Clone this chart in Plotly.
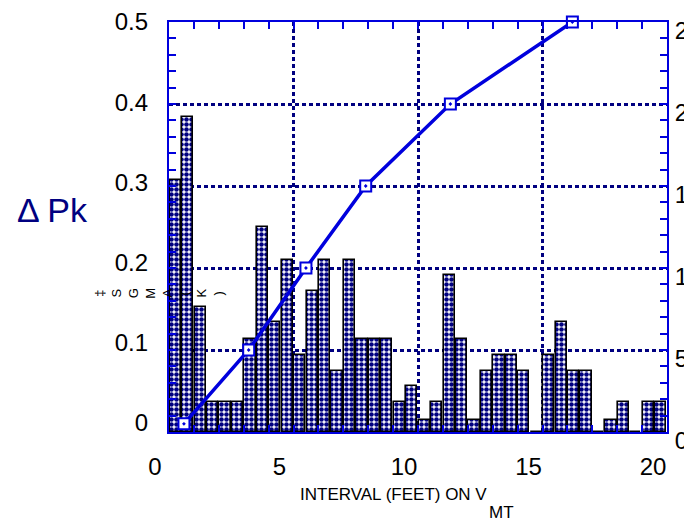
import plotly.graph_objects as go

# ---- data ----
bin_centers = [0.25, 0.75, 1.25, 1.75, 2.25, 2.75, 3.25, 3.75, 4.25, 4.75,
               5.25, 5.75, 6.25, 6.75, 7.25, 7.75, 8.25, 8.75, 9.25, 9.75,
               10.25, 10.75, 11.25, 11.75, 12.25, 12.75, 13.25, 13.75, 14.25, 14.75,
               15.25, 15.75, 16.25, 16.75, 17.25, 17.75, 18.25, 18.75, 19.25, 19.75]
bar_counts = [15.35, 19.2, 7.6, 1.8, 1.8, 1.8, 5.7, 12.5, 6.7, 10.5,
              4.7, 8.6, 10.5, 3.75, 10.5, 5.7, 5.7, 5.7, 1.8, 2.8,
              0.75, 1.8, 9.6, 5.7, 0.75, 3.75, 4.7, 4.7, 3.75, 0,
              4.7, 6.7, 3.75, 3.75, 0, 0.75, 1.8, 0, 1.8, 1.8]
line_x = [0.6, 3.2, 5.5, 7.9, 11.3, 16.2]
line_dpk = [0.01, 0.1, 0.2, 0.3, 0.4, 0.5]

x_ticks = [0, 5, 10, 15, 20]
left_ticks = [0, 0.1, 0.2, 0.3, 0.4, 0.5]
right_ticks = [0, 5, 10, 15, 20, 25]

side_label = "‡<br>S<br>G<br>M<br>A<br>(<br>K<br>)"

BLUE = "#0000dd"
NAVY = "#000080"
FONT = "Liberation Sans, Arial, sans-serif"

# page body has an 8px margin: work in screen pixels and shift
OFF = 8
SW, SH = 692, 519
W, H = SW - OFF, SH - OFF
L, R, T, B = 169 - OFF, 667 - OFF, 22 - OFF, 432.5 - OFF


def px_x(p):
    return (p - OFF - L) / (R - L)


def px_y(p):
    return (B - (p - OFF)) / (B - T)


fig = go.Figure()
fig.add_trace(go.Bar(
    x=bin_centers, y=bar_counts, width=0.45, yaxis="y",
    marker=dict(color="white", line=dict(color="black", width=1.6),
                pattern=dict(shape=".", fgcolor=NAVY, bgcolor="white",
                             size=5, solidity=0.65)),
    showlegend=False,
))
# empty trace so the label-only left axis (y3) is drawn
fig.add_trace(go.Scatter(x=[], y=[], yaxis="y3", showlegend=False, hoverinfo="skip"))
fig.add_trace(go.Scatter(
    x=line_x, y=line_dpk, yaxis="y2", mode="lines+markers",
    line=dict(color=BLUE, width=3.5),
    marker=dict(symbol="square-dot", size=11, color="white",
                line=dict(color=BLUE, width=2)),
    cliponaxis=False, showlegend=False,
))

annotations = [
    dict(text="Δ Pk", x=px_x(15), y=px_y(210), xref="paper", yref="paper",
         xanchor="left", yanchor="middle", showarrow=False,
         font=dict(family=FONT, size=34, color=NAVY)),
    dict(text="INTERVAL (FEET) ON V", x=px_x(298), y=px_y(495), xref="paper", yref="paper",
         xanchor="left", yanchor="middle", showarrow=False,
         font=dict(family=FONT, size=17, color="black")),
    dict(text="MT", x=px_x(487), y=px_y(513), xref="paper", yref="paper",
         xanchor="left", yanchor="middle", showarrow=False,
         font=dict(family=FONT, size=17, color="black")),
    dict(text=side_label, x=px_x(159), y=px_y(294), xref="paper", yref="paper",
         xanchor="center", yanchor="middle", showarrow=False, align="center",
         textangle=-90, font=dict(family=FONT, size=13, color="black")),
]

fig.update_layout(
    width=W, height=H, template="none",
    margin=dict(l=L, r=W - R, t=T, b=H - B, pad=0),
    paper_bgcolor="white", plot_bgcolor="white",
    bargap=0,
    xaxis=dict(range=[0, 20], tickvals=x_ticks, ticks="inside", ticklen=7,
               tickcolor=BLUE, tickwidth=1.5,
               minor=dict(dtick=1, ticks="inside", ticklen=7, tickcolor=BLUE,
                          tickwidth=1.5, showgrid=False),
               showgrid=True, gridcolor=NAVY, gridwidth=2.5, griddash="4px,3px",
               showline=True, linecolor=BLUE, linewidth=2, mirror="allticks",
               zeroline=False, automargin=False, ticklabeloverflow="allow",
               tickfont=dict(family=FONT, size=24, color="black"),
               ticklabelshift=-14, ticklabelstandoff=12),
    yaxis=dict(range=[0, 25], side="right", tickvals=right_ticks, ticks="inside",
               ticklen=7, tickcolor=BLUE, tickwidth=1.5,
               minor=dict(dtick=1, ticks="inside", ticklen=7, tickcolor=BLUE,
                          tickwidth=1.5, showgrid=False),
               showgrid=True, gridcolor=NAVY, gridwidth=2.5, griddash="4px,3px",
               showline=True, linecolor=BLUE, linewidth=2, mirror="allticks",
               zeroline=False, automargin=False, ticklabeloverflow="allow",
               tickfont=dict(family=FONT, size=24, color="black"),
               ticklabelshift=9, ticklabelstandoff=1),
    yaxis2=dict(range=[0, 0.5], side="left", overlaying="y",
                showticklabels=False, ticks="", showgrid=False, showline=False,
                zeroline=False, automargin=False),
    # label-only axis carrying the left-hand ΔPk tick labels as printed
    yaxis3=dict(range=[-0.01185, 0.5], side="left", overlaying="y", anchor="x",
                tickvals=left_ticks, ticks="", showgrid=False, showline=False,
                zeroline=False, automargin=False, ticklabeloverflow="allow",
                tickfont=dict(family=FONT, size=24, color="black"),
                ticklabelstandoff=20),
    annotations=annotations,
)

fig.write_html("out.html")
